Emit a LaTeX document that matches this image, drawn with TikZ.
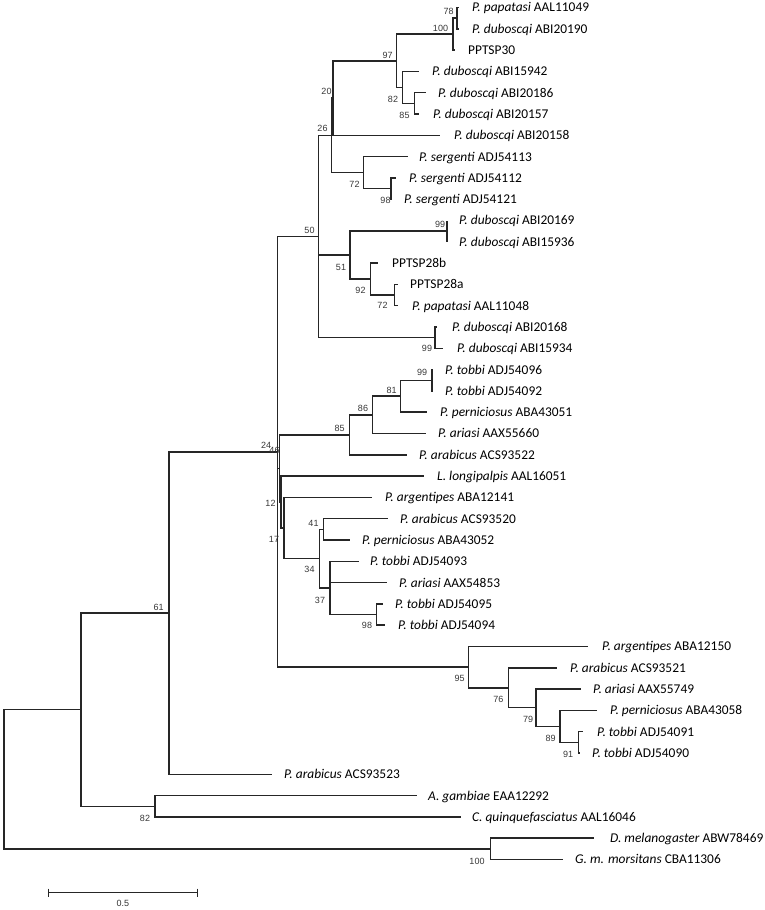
\documentclass[tikz,border=0pt]{standalone}
\usepackage{fontspec}
\setmainfont{Carlito}
\newfontfamily\bsfont{Liberation Sans}
\usetikzlibrary{calc}
\begin{document}
\begin{tikzpicture}[x=1pt,y=-1pt,
  br/.style={line width=1.5pt, draw=black!85},
  leaflab/.style={anchor=base west, inner sep=0pt, font=\fontsize{13.4}{13.4}\selectfont},
  bs/.style={inner sep=0pt, font=\bsfont\fontsize{9}{9}\selectfont, text=black!78},
  sclab/.style={inner sep=0pt, font=\bsfont\fontsize{9}{9}\selectfont, text=black!80}]
\useasboundingbox (0,0) rectangle (764,910);
\fill[white] (0,0) rectangle (764,910);
% leaf ends
\coordinate (l1) at (459,7.5);
\coordinate (l2) at (459,28.8);
\coordinate (l3) at (455,50.1);
\coordinate (l4) at (419,71.4);
\coordinate (l5) at (426,92.7);
\coordinate (l6) at (419,114.0);
\coordinate (l7) at (440,135.3);
\coordinate (l8) at (408,156.6);
\coordinate (l9) at (396,177.9);
\coordinate (l10) at (391.5,199.2);
\coordinate (l11) at (447,220.5);
\coordinate (l12) at (447,241.8);
\coordinate (l13) at (378,263.1);
\coordinate (l14) at (398,284.4);
\coordinate (l15) at (398,305.7);
\coordinate (l16) at (437,327.0);
\coordinate (l17) at (443,348.3);
\coordinate (l18) at (432.5,369.6);
\coordinate (l19) at (432.5,390.9);
\coordinate (l20) at (427,412.2);
\coordinate (l21) at (426,433.5);
\coordinate (l22) at (407,454.8);
\coordinate (l23) at (424,476.1);
\coordinate (l24) at (372,497.4);
\coordinate (l25) at (388,518.7);
\coordinate (l26) at (350,540.0);
\coordinate (l27) at (359,561.3);
\coordinate (l28) at (387,582.6);
\coordinate (l29) at (383,603.9);
\coordinate (l30) at (385,625.2);
\coordinate (l31) at (588,646.5);
\coordinate (l32) at (557,667.8);
\coordinate (l33) at (581,689.1);
\coordinate (l34) at (597,710.4);
\coordinate (l35) at (583,731.7);
\coordinate (l36) at (580,753.0);
\coordinate (l37) at (272,774.3);
\coordinate (l38) at (417,795.6);
\coordinate (l39) at (461,816.9);
\coordinate (l40) at (594,838.2);
\coordinate (l41) at (563,859.5);
% internal nodes
\coordinate (n78) at (457,18.15);
\coordinate (n100) at (453,34.1);
\coordinate (n85a) at (414.3,103.35);
\coordinate (n82) at (402.3,87.4);
\coordinate (n97) at (396.7,60.8);
\coordinate (n20) at (333.2,98.05);
\coordinate (n98a) at (391,188.55);
\coordinate (n72a) at (363.3,172.6);
\coordinate (n26) at (331.7,135.3);
\coordinate (n99a) at (447,231.15);
\coordinate (n72b) at (394.3,295.05);
\coordinate (n92) at (370.7,279.1);
\coordinate (n51) at (350,255.1);
\coordinate (n99b) at (435,337.65);
\coordinate (n50) at (318.3,236.5);
\coordinate (n99c) at (432,380.25);
\coordinate (n81) at (400.7,396.2);
\coordinate (n86) at (372.7,414.85);
\coordinate (n85b) at (349.3,434.8);
\coordinate (n41) at (323.3,529.35);
\coordinate (n98b) at (376.7,614.55);
\coordinate (n37) at (330,587.9);
\coordinate (n34) at (319.3,558.6);
\coordinate (n17) at (284,528.0);
\coordinate (n12) at (281.2,502.05);
\coordinate (n46) at (279.5,468.4);
\coordinate (n91) at (578.3,742.35);
\coordinate (n89) at (560,726.4);
\coordinate (n79) at (536,707.7);
\coordinate (n76) at (508.3,687.8);
\coordinate (n95) at (468.3,667.1);
\coordinate (n24) at (277.3,451.8);
\coordinate (n61) at (169,613.05);
\coordinate (n82b) at (155,806.25);
\coordinate (nA) at (81,709.65);
\coordinate (n100b) at (490.5,848.85);
\coordinate (root) at (4,779.25);
% branches
\foreach \p/\c in {root/nA, root/n100b, nA/n61, nA/n82b, n61/n24, n61/l37,
  n82b/l38, n82b/l39, n100b/l40, n100b/l41,
  n24/n50, n24/n46, n24/n95,
  n50/n26, n50/n51, n50/n99b,
  n26/n20, n26/n72a, n20/n97, n20/l7,
  n97/n100, n97/n82, n100/n78, n100/l3, n78/l1, n78/l2,
  n82/l4, n82/n85a, n85a/l5, n85a/l6,
  n72a/l8, n72a/n98a, n98a/l9, n98a/l10,
  n51/n99a, n51/n92, n99a/l11, n99a/l12, n92/l13, n92/n72b, n72b/l14, n72b/l15,
  n99b/l16, n99b/l17,
  n46/n85b, n46/n12, n85b/n86, n85b/l22, n86/n81, n86/l21, n81/n99c, n81/l20,
  n99c/l18, n99c/l19,
  n12/l23, n12/n17, n17/l24, n17/n34, n34/n41, n34/n37, n41/l25, n41/l26,
  n37/l27, n37/l28, n37/n98b, n98b/l29, n98b/l30,
  n95/l31, n95/n76, n76/l32, n76/n79, n79/l33, n79/n89, n89/l34, n89/n91,
  n91/l35, n91/l36}
  \draw[br] (\p) |- (\c);
% leaf labels
\foreach \i/\x/\t in {
 1/472/{\textit{P. papatasi} AAL11049},
 2/472/{\textit{P. duboscqi} ABI20190},
 3/468/{PPTSP30},
 4/432/{\textit{P. duboscqi} ABI15942},
 5/438/{\textit{P. duboscqi} ABI20186},
 6/433/{\textit{P. duboscqi} ABI20157},
 7/454/{\textit{P. duboscqi} ABI20158},
 8/419/{\textit{P. sergenti} ADJ54113},
 9/409/{\textit{P. sergenti} ADJ54112},
 10/404/{\textit{P. sergenti} ADJ54121},
 11/459/{\textit{P. duboscqi} ABI20169},
 12/459/{\textit{P. duboscqi} ABI15936},
 13/392/{PPTSP28b},
 14/410/{PPTSP28a},
 15/412/{\textit{P. papatasi} AAL11048},
 16/452/{\textit{P. duboscqi} ABI20168},
 17/457/{\textit{P. duboscqi} ABI15934},
 18/445/{\textit{P. tobbi} ADJ54096},
 19/445/{\textit{P. tobbi} ADJ54092},
 20/440/{\textit{P. perniciosus} ABA43051},
 21/438/{\textit{P. ariasi} AAX55660},
 22/419/{\textit{P. arabicus} ACS93522},
 23/437/{\textit{L. longipalpis} AAL16051},
 24/385/{\textit{P. argentipes} ABA12141},
 25/400/{\textit{P. arabicus} ACS93520},
 26/362/{\textit{P. perniciosus} ABA43052},
 27/370/{\textit{P. tobbi} ADJ54093},
 28/399/{\textit{P. ariasi} AAX54853},
 29/395/{\textit{P. tobbi} ADJ54095},
 30/398/{\textit{P. tobbi} ADJ54094},
 31/602/{\textit{P. argentipes} ABA12150},
 32/570/{\textit{P. arabicus} ACS93521},
 33/593/{\textit{P. ariasi} AAX55749},
 34/610/{\textit{P. perniciosus} ABA43058},
 35/597/{\textit{P. tobbi} ADJ54091},
 36/592/{\textit{P. tobbi} ADJ54090},
 37/284/{\textit{P. arabicus} ACS93523},
 38/428/{\textit{A. gambiae} EAA12292},
 39/472/{\textit{C. quinquefasciatus} AAL16046},
 40/610/{\textit{D. melanogaster} ABW78469},
 41/575/{\textit{G. m. morsitans} CBA11306}}
  \node[leaflab] (t\i) at (\x, {7.5+21.3*(\i-1)+4.4}) {\t};
% bootstrap values
\foreach \n/\x/\y/\v in {b1/448.5/11.5/78, b2/440.5/28.5/100, b3/387.5/55/97,
  b4/326.5/91/20, b5/393/99/82, b6/404.5/115.5/85, b7/322.5/128/26,
  b8/354.5/184/72, b9/385.5/200.5/98, b10/309.5/230.5/50, b11/440/224.5/99,
  b12/341/267.5/51, b13/360.5/290/92, b14/382.5/305/72, b15/427/348.5/99,
  b16/422/372.5/99, b17/391.7/390/81, b18/363/408/86, b19/339.7/428.3/85,
  b20/266.2/445/24, b21/274.5/450.5/46, b22/270.5/503/12, b23/274/539/17,
  b24/313.5/523.5/41, b25/309.5/569.5/34, b26/320/600/37, b27/367/625/98,
  b28/459.5/678.5/95, b29/498.3/699.3/76, b30/528/719.5/79, b31/550.5/738.5/89,
  b32/568/754/91, b33/158.7/607/61, b34/145/818/82, b35/477/861.5/100}
  \node[bs] (\n) at (\x,\y) {\v};
% scale bar
\coordinate (sb1) at (48.3,892.7);
\coordinate (sb2) at (197.3,892.7);
\draw[br] (sb1) -- (sb2);
\draw[br] ([yshift=4pt]sb1) -- ([yshift=-4pt]sb1);
\draw[br] ([yshift=4pt]sb2) -- ([yshift=-4pt]sb2);
\node[sclab] (sbl) at (122.8,903.5) {0.5};
\end{tikzpicture}
\end{document}
